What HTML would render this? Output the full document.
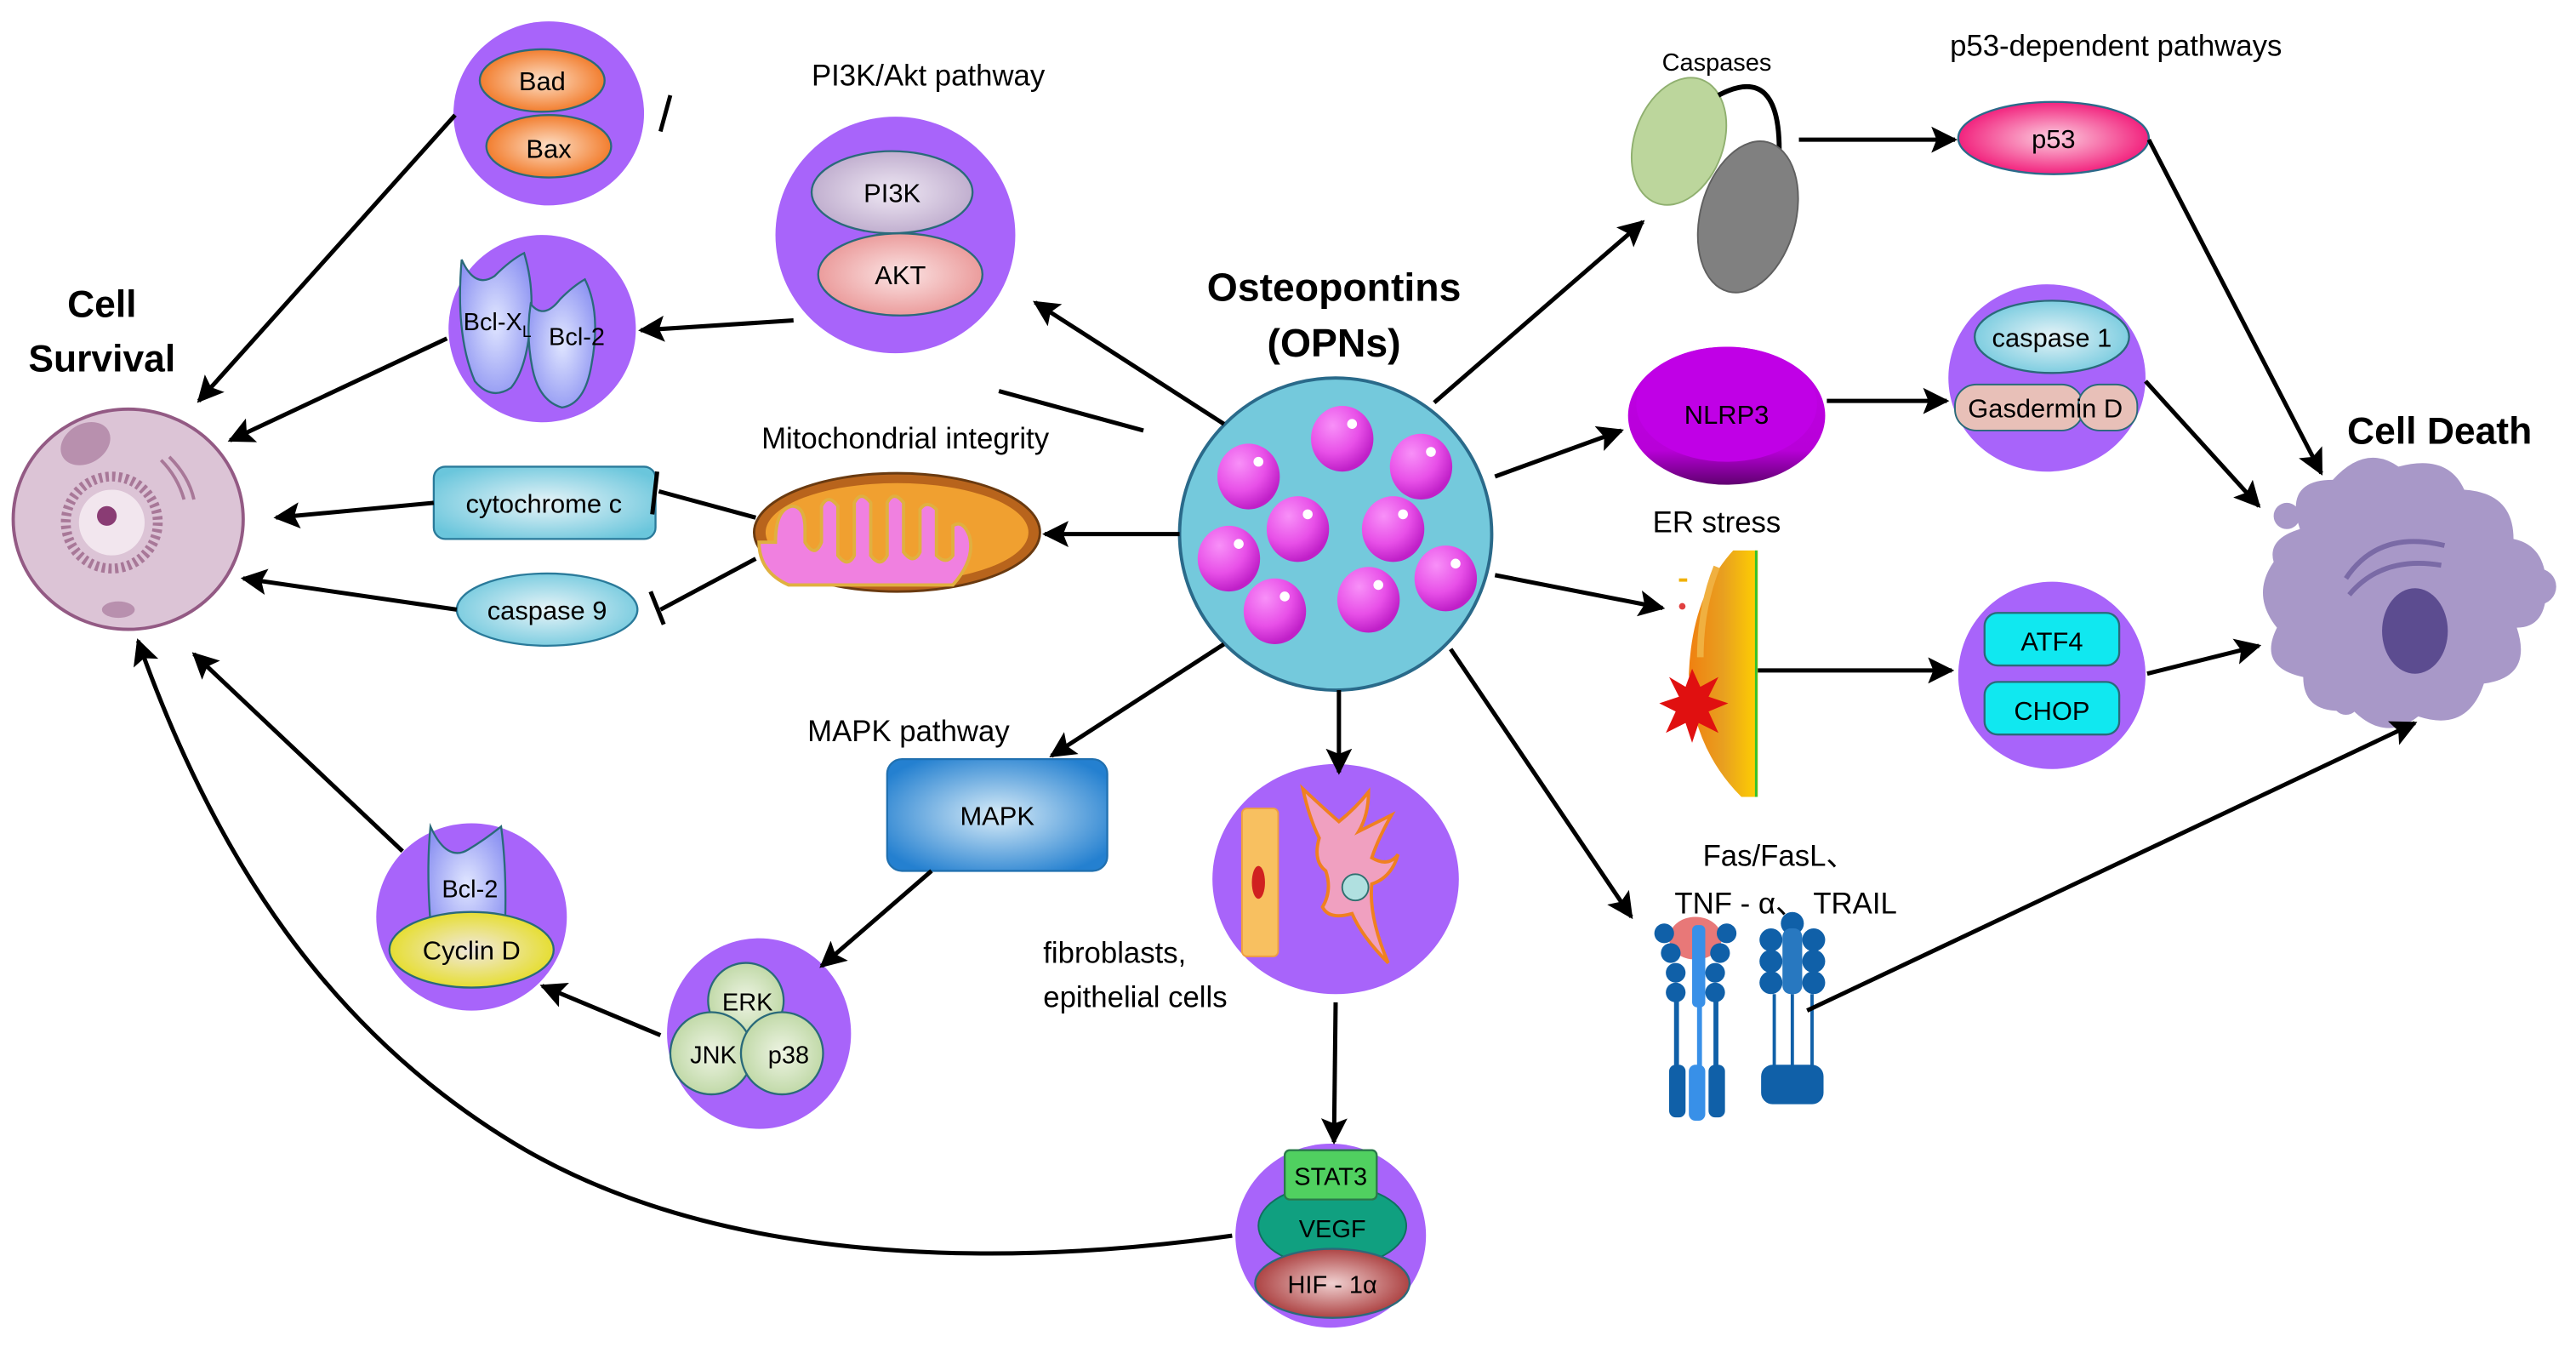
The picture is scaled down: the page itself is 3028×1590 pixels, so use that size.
<!DOCTYPE html>
<html><head><meta charset="utf-8"><style>html,body{margin:0;padding:0;background:#fff}svg{display:block}text{font-family:"Liberation Sans","Noto Sans CJK SC",sans-serif}</style></head>
<body>
<svg width="3028" height="1590" viewBox="0 0 1568 823.4" xmlns="http://www.w3.org/2000/svg">
<defs>
<marker id="a" viewBox="0 0 10 10" refX="9" refY="5" markerWidth="16" markerHeight="16" markerUnits="userSpaceOnUse" orient="auto"><path d="M0,0 L10,5 L0,10 L2,5 z" fill="#000"/></marker>
<radialGradient id="gcy" cx="50%" cy="50%" r="60%"><stop offset="0" stop-color="#e8f4f8"/><stop offset="1" stop-color="#6ac6dc"/></radialGradient>
<radialGradient id="gor" cx="50%" cy="50%" r="60%"><stop offset="0" stop-color="#fde0c8"/><stop offset="1" stop-color="#f06a10"/></radialGradient>
<radialGradient id="gpi" cx="50%" cy="50%" r="60%"><stop offset="0" stop-color="#efe8f4"/><stop offset="1" stop-color="#b8a4c8"/></radialGradient>
<radialGradient id="gak" cx="50%" cy="50%" r="60%"><stop offset="0" stop-color="#fbe4e4"/><stop offset="1" stop-color="#e88e8e"/></radialGradient>
<radialGradient id="gbl" cx="50%" cy="50%" r="60%"><stop offset="0" stop-color="#e0e6ff"/><stop offset="1" stop-color="#8c92f2"/></radialGradient>
<radialGradient id="gmapk" cx="50%" cy="50%" r="60%"><stop offset="0" stop-color="#d8ecf8"/><stop offset="1" stop-color="#2480d0"/></radialGradient>
<radialGradient id="ggr" cx="50%" cy="50%" r="60%"><stop offset="0" stop-color="#eef4e4"/><stop offset="1" stop-color="#b8d49c"/></radialGradient>
<radialGradient id="gye" cx="50%" cy="50%" r="60%"><stop offset="0" stop-color="#f0e8e0"/><stop offset="1" stop-color="#e4dc10"/></radialGradient>
<radialGradient id="gp53" cx="50%" cy="50%" r="60%"><stop offset="0" stop-color="#fcd0e0"/><stop offset="1" stop-color="#f0006a"/></radialGradient>
<radialGradient id="ghif" cx="50%" cy="50%" r="60%"><stop offset="0" stop-color="#f0d0d0"/><stop offset="1" stop-color="#a02828"/></radialGradient>
<radialGradient id="gball" cx="35%" cy="30%" r="70%"><stop offset="0" stop-color="#f890f8"/><stop offset="0.6" stop-color="#e850e8"/><stop offset="1" stop-color="#c020c8"/></radialGradient>
<linearGradient id="gnl" x1="0" y1="0" x2="0" y2="1"><stop offset="0" stop-color="#c000e8"/><stop offset="0.75" stop-color="#b800d8"/><stop offset="1" stop-color="#600070"/></linearGradient>
<linearGradient id="ger" x1="0" y1="0" x2="1" y2="0"><stop offset="0" stop-color="#f08010"/><stop offset="0.5" stop-color="#e8a020"/><stop offset="1" stop-color="#ffd000"/></linearGradient>
</defs>

<text x="62" y="193" font-size="23" font-weight="bold" text-anchor="middle">Cell</text>
<text x="62" y="226" font-size="23" font-weight="bold" text-anchor="middle">Survival</text>
<ellipse cx="78" cy="316" rx="70" ry="67" fill="#dcc4d6" stroke="#935a84" stroke-width="2"/>
<ellipse cx="52" cy="270" rx="16" ry="12" fill="#b890ae" transform="rotate(-30 52 270)"/>
<circle cx="68" cy="318" r="28" fill="none" stroke="#a87898" stroke-width="6" stroke-dasharray="2 2"/>
<circle cx="68" cy="318" r="20" fill="#f2e6ee"/>
<circle cx="65" cy="314" r="6" fill="#8a3c74"/>
<path d="M98,280 q10,10 14,24 M103,278 q12,12 15,26" stroke="#a87898" stroke-width="2" fill="none"/>
<ellipse cx="72" cy="371" rx="10" ry="5" fill="#b890ae"/>

<ellipse cx="334" cy="69" rx="58" ry="56" fill="#a864fa"/>
<ellipse cx="330" cy="49" rx="38" ry="19" fill="url(#gor)" stroke="#2a6a7a" stroke-width="1.2"/>
<ellipse cx="334" cy="89" rx="38" ry="19" fill="url(#gor)" stroke="#2a6a7a" stroke-width="1.2"/>
<text x="330" y="55" font-size="16" text-anchor="middle">Bad</text>
<text x="334" y="96" font-size="16" text-anchor="middle">Bax</text>
<line x1="402" y1="80" x2="408" y2="58" stroke="#000" stroke-width="2.5"/>

<text x="565" y="52" font-size="18" text-anchor="middle">PI3K/Akt pathway</text>
<ellipse cx="545" cy="143" rx="73" ry="72" fill="#a864fa"/>
<ellipse cx="543" cy="117" rx="49" ry="25" fill="url(#gpi)" stroke="#2a6a7a" stroke-width="1.2"/>
<ellipse cx="548" cy="167" rx="50" ry="25" fill="url(#gak)" stroke="#2a6a7a" stroke-width="1.2"/>
<text x="543" y="123" font-size="16" text-anchor="middle">PI3K</text>
<text x="548" y="173" font-size="16" text-anchor="middle">AKT</text>

<ellipse cx="330" cy="200" rx="57" ry="57" fill="#a864fa"/>
<path d="M281,158 q8,18 20,10 q10,-10 18,-14 q6,20 4,40 q-2,30 -12,42 q-12,8 -22,-4 q-12,-28 -8,-74z" fill="url(#gbl)" stroke="#2a6a7a" stroke-width="1.2"/>
<path d="M323,185 q8,10 18,-3 q8,-8 15,-12 q10,20 4,52 q-4,24 -18,26 q-14,-4 -18,-24 q-4,-20 -1,-39z" fill="url(#gbl)" stroke="#2a6a7a" stroke-width="1.2"/>
<text x="282" y="201" font-size="15">Bcl-X<tspan font-size="10" dy="4">L</tspan></text>
<text x="334" y="210" font-size="15">Bcl-2</text>

<text x="812" y="183" font-size="24" font-weight="bold" text-anchor="middle">Osteopontins</text>
<text x="812" y="217" font-size="24" font-weight="bold" text-anchor="middle">(OPNs)</text>
<circle cx="813" cy="325" r="95" fill="#74c9dc" stroke="#2a6a8a" stroke-width="2"/>
<g fill="url(#gball)">
<ellipse cx="817" cy="267" rx="19" ry="20"/><ellipse cx="760" cy="290" rx="19" ry="20"/><ellipse cx="865" cy="284" rx="19" ry="20"/>
<ellipse cx="790" cy="322" rx="19" ry="20"/><ellipse cx="848" cy="322" rx="19" ry="20"/><ellipse cx="748" cy="340" rx="19" ry="20"/>
<ellipse cx="880" cy="352" rx="19" ry="20"/><ellipse cx="833" cy="365" rx="19" ry="20"/><ellipse cx="776" cy="372" rx="19" ry="20"/>
</g>
<g fill="#fff"><circle cx="823" cy="258" r="3"/><circle cx="766" cy="281" r="3"/><circle cx="871" cy="275" r="3"/><circle cx="796" cy="313" r="3"/><circle cx="854" cy="313" r="3"/><circle cx="754" cy="331" r="3"/><circle cx="886" cy="343" r="3"/><circle cx="839" cy="356" r="3"/><circle cx="782" cy="363" r="3"/></g>

<text x="551" y="273" font-size="18" text-anchor="middle">Mitochondrial integrity</text>
<ellipse cx="546" cy="324" rx="87" ry="36" fill="#b8641c" stroke="#6a3a10" stroke-width="1.5"/>
<ellipse cx="546" cy="324" rx="80" ry="30" fill="#f0a030"/>
<path d="M472,330 q0,-20 10,-22 q8,0 8,14 v8 q6,10 10,0 v-22 q4,-8 10,0 v30 q6,8 10,0 v-32 q4,-8 10,0 v32 q6,8 10,0 v-32 q4,-8 10,0 v30 q6,8 10,0 v-26 q4,-6 10,0 v28 q6,6 10,0 v-18 q6,-4 10,6 q4,14 -10,30 h-100 q-18,-8 -18,-26z" fill="#f080e0" stroke="#e0b040" stroke-width="2"/>

<rect x="264" y="284" width="135" height="44" rx="7" fill="url(#gcy)" stroke="#2a7a9a" stroke-width="1.2"/>
<text x="331" y="312" font-size="16" text-anchor="middle">cytochrome c</text>
<ellipse cx="333" cy="371" rx="55" ry="22" fill="url(#gcy)" stroke="#2a7a9a" stroke-width="1.2"/>
<text x="333" y="377" font-size="16" text-anchor="middle">caspase 9</text>

<text x="553" y="451" font-size="18" text-anchor="middle">MAPK pathway</text>
<rect x="540" y="462" width="134" height="68" rx="9" fill="url(#gmapk)" stroke="#2070b0" stroke-width="1.2"/>
<text x="607" y="502" font-size="16" text-anchor="middle">MAPK</text>

<ellipse cx="462" cy="629" rx="56" ry="58" fill="#a864fa"/>
<circle cx="454" cy="609" r="23" fill="url(#ggr)" stroke="#2a6a7a" stroke-width="1.2"/>
<circle cx="433" cy="641" r="25" fill="url(#ggr)" stroke="#2a6a7a" stroke-width="1.2"/>
<circle cx="476" cy="641" r="25" fill="url(#ggr)" stroke="#2a6a7a" stroke-width="1.2"/>
<text x="455" y="615" font-size="15" text-anchor="middle">ERK</text>
<text x="420" y="647" font-size="15">JNK</text>
<text x="480" y="647" font-size="15" text-anchor="middle">p38</text>

<ellipse cx="287" cy="558" rx="58" ry="57" fill="#a864fa"/>
<path d="M262,503 q10,22 23,14 q10,-6 20,-14 q4,30 2,70 h-44 q-4,-40 -1,-70z" fill="url(#gbl)" stroke="#2a6a7a" stroke-width="1.2"/>
<text x="286" y="546" font-size="15" text-anchor="middle">Bcl-2</text>
<ellipse cx="287" cy="578" rx="50" ry="23" fill="url(#gye)" stroke="#2a6a7a" stroke-width="1.2"/>
<text x="287" y="584" font-size="16" text-anchor="middle">Cyclin D</text>

<ellipse cx="813" cy="535" rx="75" ry="70" fill="#a864fa"/>
<rect x="756" y="492" width="22" height="90" rx="3" fill="#f8c060" stroke="#f0a040"/>
<ellipse cx="766" cy="537" rx="4" ry="10" fill="#d02020"/>
<path d="M793,480 q15,14 22,20 q10,-8 18,-18 q0,14 -6,24 l20,-10 q-8,14 -12,26 q10,6 16,-2 q-4,14 -16,18 q-2,20 10,48 q-16,-16 -22,-30 q-14,4 -18,-4 q6,-10 2,-22 q-8,-6 -4,-20 q-6,-12 -10,-30z" fill="#f0a0c0" stroke="#f08020" stroke-width="2"/>
<circle cx="825" cy="540" r="8" fill="#b0e0e0" stroke="#307070"/>
<text x="635" y="586" font-size="18">fibroblasts,</text>
<text x="635" y="613" font-size="18">epithelial cells</text>

<ellipse cx="810" cy="752" rx="58" ry="56" fill="#a864fa"/>
<ellipse cx="811" cy="746" rx="45" ry="25" fill="#10a080" stroke="#107060" stroke-width="1"/>
<rect x="782" y="700" width="56" height="30" rx="3" fill="#50d060" stroke="#2a7a4a" stroke-width="1.2"/>
<text x="810" y="721" font-size="15" text-anchor="middle">STAT3</text>
<text x="811" y="753" font-size="15" text-anchor="middle">VEGF</text>
<ellipse cx="811" cy="781" rx="47" ry="21" fill="url(#ghif)" stroke="#2a6a7a" stroke-width="1.2"/>
<text x="811" y="787" font-size="15" text-anchor="middle">HIF - 1α</text>

<text x="1045" y="43" font-size="15" text-anchor="middle">Caspases</text>
<ellipse cx="1022" cy="86" rx="27" ry="40" fill="#bcd69c" stroke="#90b070" transform="rotate(20 1022 86)"/>
<path d="M1046,58 q38,-20 37,36" stroke="#000" stroke-width="3" fill="none"/>
<ellipse cx="1064" cy="132" rx="29" ry="47" fill="#808080" stroke="#606060" transform="rotate(15 1064 132)"/>

<text x="1288" y="34" font-size="18" text-anchor="middle">p53-dependent pathways</text>
<ellipse cx="1250" cy="84" rx="58" ry="22" fill="url(#gp53)" stroke="#2a6a8a" stroke-width="1.2"/>
<text x="1250" y="90" font-size="16" text-anchor="middle">p53</text>

<ellipse cx="1051" cy="253" rx="60" ry="42" fill="url(#gnl)"/>
<ellipse cx="1051" cy="246" rx="55" ry="35" fill="#c000e6"/>
<text x="1051" y="258" font-size="16" text-anchor="middle">NLRP3</text>

<ellipse cx="1246" cy="230" rx="60" ry="57" fill="#a864fa"/>
<ellipse cx="1249" cy="205" rx="47" ry="22" fill="url(#gcy)" stroke="#2a6a7a" stroke-width="1.2"/>
<text x="1249" y="211" font-size="16" text-anchor="middle">caspase 1</text>
<rect x="1190" y="234" width="78" height="28" rx="13" fill="#e8c0b8" stroke="#2a6a7a"/>
<rect x="1265" y="234" width="36" height="28" rx="13" fill="#e8c0b8" stroke="#2a6a7a"/>
<text x="1245" y="254" font-size="16" text-anchor="middle">Gasdermin D</text>

<text x="1485" y="270" font-size="23" font-weight="bold" text-anchor="middle">Cell Death</text>
<g transform="translate(0,22)">
<path d="M1400,300 q-10,-30 20,-30 q20,-22 40,-8 q30,-8 40,14 q30,2 30,30 q20,4 20,30 q0,24 -18,24 q10,30 -20,34 q-10,30 -40,20 q-20,16 -40,-4 q-30,4 -30,-20 q-28,-6 -16,-30 q-16,-20 -2,-40 q-4,-14 16,-20z" fill="#a898c8"/>
<circle cx="1545" cy="335" r="11" fill="#a898c8"/><circle cx="1392" cy="292" r="8" fill="#a898c8"/><circle cx="1428" cy="405" r="8" fill="#a898c8"/>
<ellipse cx="1470" cy="362" rx="20" ry="26" fill="#5c4c90"/>
<path d="M1428,330 q20,-30 60,-20 M1430,340 q20,-24 56,-18" stroke="#7a6aa6" stroke-width="3" fill="none"/>
</g>

<text x="1045" y="324" font-size="18" text-anchor="middle">ER stress</text>
<path d="M1055,335 h15 v150 h-10 q-30,-30 -32,-75 q2,-48 27,-75z" fill="url(#ger)"/>
<line x1="1069" y1="335" x2="1069" y2="485" stroke="#30c030" stroke-width="1.5"/>
<path d="M1045,345 q-10,25 -10,55" stroke="#f0b040" stroke-width="4" fill="none"/>
<polygon points="1030,407 1035,418 1046,412 1040,424 1052,428 1040,433 1046,446 1034,440 1030,452 1026,440 1014,446 1020,433 1010,428 1022,424 1016,412 1026,418" fill="#e01010"/>
<rect x="1022" y="352" width="5" height="2" fill="#f0b000"/><circle cx="1024" cy="369" r="2" fill="#e04040"/>

<ellipse cx="1249" cy="411" rx="57" ry="57" fill="#a864fa"/>
<rect x="1208" y="373" width="82" height="32" rx="8" fill="#10e8f0" stroke="#2a6a7a" stroke-width="1.2"/>
<rect x="1208" y="415" width="82" height="32" rx="8" fill="#10e8f0" stroke="#2a6a7a" stroke-width="1.2"/>
<text x="1249" y="396" font-size="16" text-anchor="middle">ATF4</text>
<text x="1249" y="438" font-size="16" text-anchor="middle">CHOP</text>

<text x="1083" y="527" font-size="18" text-anchor="middle">Fas/FasL、</text>
<text x="1087" y="556" font-size="18" text-anchor="middle">TNF - α、 TRAIL</text>
<g fill="#1060a8">
<ellipse cx="1032" cy="571" rx="16" ry="13" fill="#e87878"/>
<circle cx="1013" cy="568" r="6"/><circle cx="1017" cy="580" r="6"/><circle cx="1020" cy="592" r="6"/><circle cx="1020" cy="604" r="6"/>
<circle cx="1051" cy="568" r="6"/><circle cx="1047" cy="580" r="6"/><circle cx="1044" cy="592" r="6"/><circle cx="1044" cy="604" r="6"/>
<rect x="1030" y="563" width="8" height="50" rx="3" fill="#3890e8"/>
<rect x="1019" y="605" width="3" height="45"/><rect x="1043" y="605" width="3" height="45"/><rect x="1033" y="610" width="3" height="40" fill="#3890e8"/>
<rect x="1016" y="648" width="10" height="32" rx="4"/><rect x="1040" y="648" width="10" height="32" rx="4"/><rect x="1028" y="648" width="10" height="34" rx="4" fill="#3890e8"/>
<circle cx="1091" cy="562" r="7"/><circle cx="1078" cy="572" r="7"/><circle cx="1104" cy="572" r="7"/><circle cx="1078" cy="585" r="7"/><circle cx="1104" cy="585" r="7"/><circle cx="1078" cy="598" r="7"/><circle cx="1104" cy="598" r="7"/>
<rect x="1085" y="565" width="12" height="40" rx="5" fill="#2878c0"/>
<rect x="1079" y="605" width="2" height="45"/><rect x="1090" y="605" width="2" height="45"/><rect x="1102" y="605" width="2" height="45"/>
<rect x="1072" y="648" width="38" height="24" rx="7"/>
</g>

<g stroke="#000" stroke-width="2.6" fill="none" marker-end="url(#a)">
<line x1="277" y1="70" x2="121" y2="244"/>
<line x1="483" y1="195" x2="390" y2="201"/>
<line x1="272" y1="206" x2="140" y2="268"/>
<line x1="745" y1="258" x2="630" y2="184"/>
<line x1="718" y1="325" x2="636" y2="325"/>
<line x1="264" y1="306" x2="168" y2="315"/>
<line x1="278" y1="371" x2="148" y2="352"/>
<line x1="745" y1="392" x2="640" y2="460"/>
<line x1="567" y1="530" x2="500" y2="588"/>
<line x1="402" y1="630" x2="330" y2="600"/>
<line x1="245" y1="518" x2="118" y2="398"/>
<path d="M750,752 C650,766 460,780 320,700 C200,630 130,520 84,390"/>
<line x1="815" y1="420" x2="815" y2="470"/>
<line x1="813" y1="610" x2="812" y2="695"/>
<line x1="873" y1="245" x2="1000" y2="135"/>
<line x1="1095" y1="85" x2="1190" y2="85"/>
<line x1="1308" y1="85" x2="1413" y2="288"/>
<line x1="910" y1="290" x2="987" y2="262"/>
<line x1="1112" y1="244" x2="1185" y2="244"/>
<line x1="1306" y1="232" x2="1375" y2="308"/>
<line x1="910" y1="350" x2="1012" y2="370"/>
<line x1="1070" y1="408" x2="1188" y2="408"/>
<line x1="1307" y1="410" x2="1375" y2="393"/>
<line x1="883" y1="395" x2="993" y2="558"/>
<line x1="1100" y1="615" x2="1470" y2="440"/>
</g>
<g stroke="#000" stroke-width="2.6" fill="none">
<line x1="608" y1="238" x2="696" y2="262"/>
<line x1="460" y1="315" x2="401" y2="299"/>
<line x1="400" y1="287" x2="397" y2="313"/>
<line x1="460" y1="340" x2="402" y2="371"/>
<line x1="396" y1="360" x2="404" y2="380"/>
</g>
</svg>
</body></html>
